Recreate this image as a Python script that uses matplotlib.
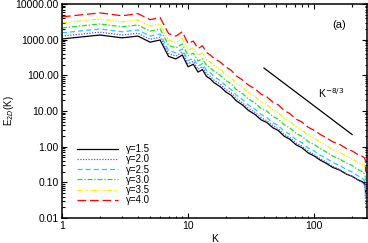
import matplotlib
matplotlib.use("Agg")
import matplotlib.pyplot as plt
import numpy as np

plt.rcParams["font.family"] = ["Liberation Sans", "DejaVu Sans"]

k = [1, 2, 3, 4, 5, 6, 7, 8, 9, 10, 11, 12, 13, 14, 15, 16, 18, 20, 22, 24,
     27, 30, 34, 38, 42, 47, 52, 58, 64, 72, 80, 90, 100, 112, 125, 140,
     160, 180, 200, 220, 240, 250, 255, 256]

# log10 of E_2D(K) for each gamma
log_e_15 = [3.02, 3.13, 3.05, 3.10, 2.93, 2.99, 2.53, 2.46, 2.57, 2.24, 2.31,
            2.09, 2.16, 1.97, 1.90, 1.80, 1.68, 1.53, 1.44, 1.29, 1.17, 1.02,
            0.90, 0.75, 0.68, 0.53, 0.45, 0.29, 0.21, 0.05, -0.03, -0.18,
            -0.26, -0.38, -0.47, -0.58, -0.66, -0.77, -0.83, -0.92, -0.98,
            -1.03, -1.10, -1.40]
log_e_20 = [3.10, 3.21, 3.13, 3.18, 3.01, 3.07, 2.61, 2.54, 2.65, 2.32, 2.39,
            2.17, 2.24, 2.05, 1.97, 1.87, 1.75, 1.60, 1.51, 1.36, 1.23, 1.08,
            0.96, 0.81, 0.73, 0.59, 0.50, 0.34, 0.26, 0.10, 0.02, -0.13,
            -0.22, -0.34, -0.43, -0.55, -0.64, -0.76, -0.83, -0.93, -1.01,
            -1.07, -1.20, -1.68]
log_e_25 = [3.19, 3.30, 3.22, 3.27, 3.10, 3.16, 2.70, 2.63, 2.74, 2.41, 2.48,
            2.26, 2.33, 2.14, 2.07, 1.97, 1.85, 1.70, 1.60, 1.45, 1.32, 1.17,
            1.05, 0.90, 0.82, 0.67, 0.59, 0.43, 0.35, 0.19, 0.11, -0.04,
            -0.12, -0.24, -0.33, -0.44, -0.53, -0.64, -0.71, -0.81, -0.88,
            -0.94, -1.05, -1.45]
log_e_30 = [3.33, 3.44, 3.36, 3.41, 3.24, 3.30, 2.84, 2.77, 2.88, 2.55, 2.62,
            2.40, 2.47, 2.28, 2.21, 2.12, 2.00, 1.85, 1.76, 1.61, 1.49, 1.34,
            1.22, 1.07, 1.00, 0.85, 0.77, 0.61, 0.53, 0.37, 0.29, 0.14,
            0.06, -0.06, -0.15, -0.26, -0.35, -0.46, -0.53, -0.63, -0.70,
            -0.76, -0.86, -1.20]
log_e_35 = [3.47, 3.58, 3.50, 3.55, 3.38, 3.44, 2.98, 2.92, 3.03, 2.70, 2.77,
            2.56, 2.63, 2.44, 2.37, 2.28, 2.17, 2.02, 1.93, 1.78, 1.66, 1.51,
            1.40, 1.25, 1.18, 1.03, 0.95, 0.79, 0.71, 0.55, 0.47, 0.32,
            0.24, 0.12, 0.03, -0.08, -0.16, -0.27, -0.34, -0.43, -0.49,
            -0.54, -0.62, -0.95]
log_e_40 = [3.64, 3.75, 3.67, 3.73, 3.56, 3.62, 3.17, 3.10, 3.22, 2.89, 2.96,
            2.75, 2.83, 2.64, 2.57, 2.48, 2.37, 2.23, 2.14, 1.99, 1.87, 1.73,
            1.62, 1.47, 1.40, 1.25, 1.17, 1.01, 0.93, 0.77, 0.69, 0.54,
            0.46, 0.34, 0.25, 0.14, 0.06, -0.05, -0.12, -0.21, -0.27,
            -0.31, -0.38, -0.70]

labels = ["γ=1.5", "γ=2.0", "γ=2.5", "γ=3.0", "γ=3.5", "γ=4.0"]

# K^-8/3 reference segment
ref_k = [40, 200]
ref_e = [160, 2.19]

series = [log_e_15, log_e_20, log_e_25, log_e_30, log_e_35, log_e_40]
colors = ["black", "#5a4cff", "#20c8ff", "#20e020", "#f0f000", "#ff0000"]
styles = ["-", (0, (1, 1.2)), (0, (4, 2.5)), (0, (4, 1.5, 1, 1.5)),
          (0, (4, 1.2, 1, 1.2, 1, 1.2, 1, 1.2)), (0, (7, 3))]

fig = plt.figure(figsize=(3.68, 2.43), dpi=100)
ax = fig.add_axes([0.1685, 0.1029, 0.829, 0.8807])

for vals, c, ls, lab in zip(series, colors, styles, labels):
    ax.plot(k, 10 ** np.array(vals), color=c, ls=ls, lw=0.9, label=lab)

ax.plot(ref_k, ref_e, color="black", lw=0.9)
ax.text(107, 31.6, r"K$^{-8/3}$", fontsize=7.5, ha="left", va="center")
ax.text(0.91, 0.90, "(a)", transform=ax.transAxes, fontsize=8,
        ha="center", va="center")

ax.set_xscale("log")
ax.set_yscale("log")
ax.set_xlim(1, 263)
ax.set_ylim(0.01, 10000)

ax.set_xticks([1, 10, 100])
ax.set_xticklabels(["1", "10", "100"])
yt = [0.01, 0.1, 1, 10, 100, 1000, 10000]
ax.set_yticks(yt)
ax.set_yticklabels(["%.2f" % v for v in yt])

ax.tick_params(which="both", direction="in", top=True, right=True,
               labelsize=7.5, width=0.8)
ax.tick_params(which="major", length=3.5, pad=2.5)
ax.tick_params(which="minor", length=1.8)
for s in ax.spines.values():
    s.set_linewidth(1.1)

ax.set_xlabel("K", fontsize=7.5, labelpad=1.5)
ax.set_ylabel(r"E$_{2D}$(K)", fontsize=7)
ax.yaxis.set_label_coords(-0.15, 0.5)

ax.legend(loc="upper left", bbox_to_anchor=(0.05, 0.345), frameon=False,
          fontsize=7, handlelength=4.2, handletextpad=0.8,
          labelspacing=0.02, borderpad=0, borderaxespad=0)

fig.savefig("out.png", dpi=100)
